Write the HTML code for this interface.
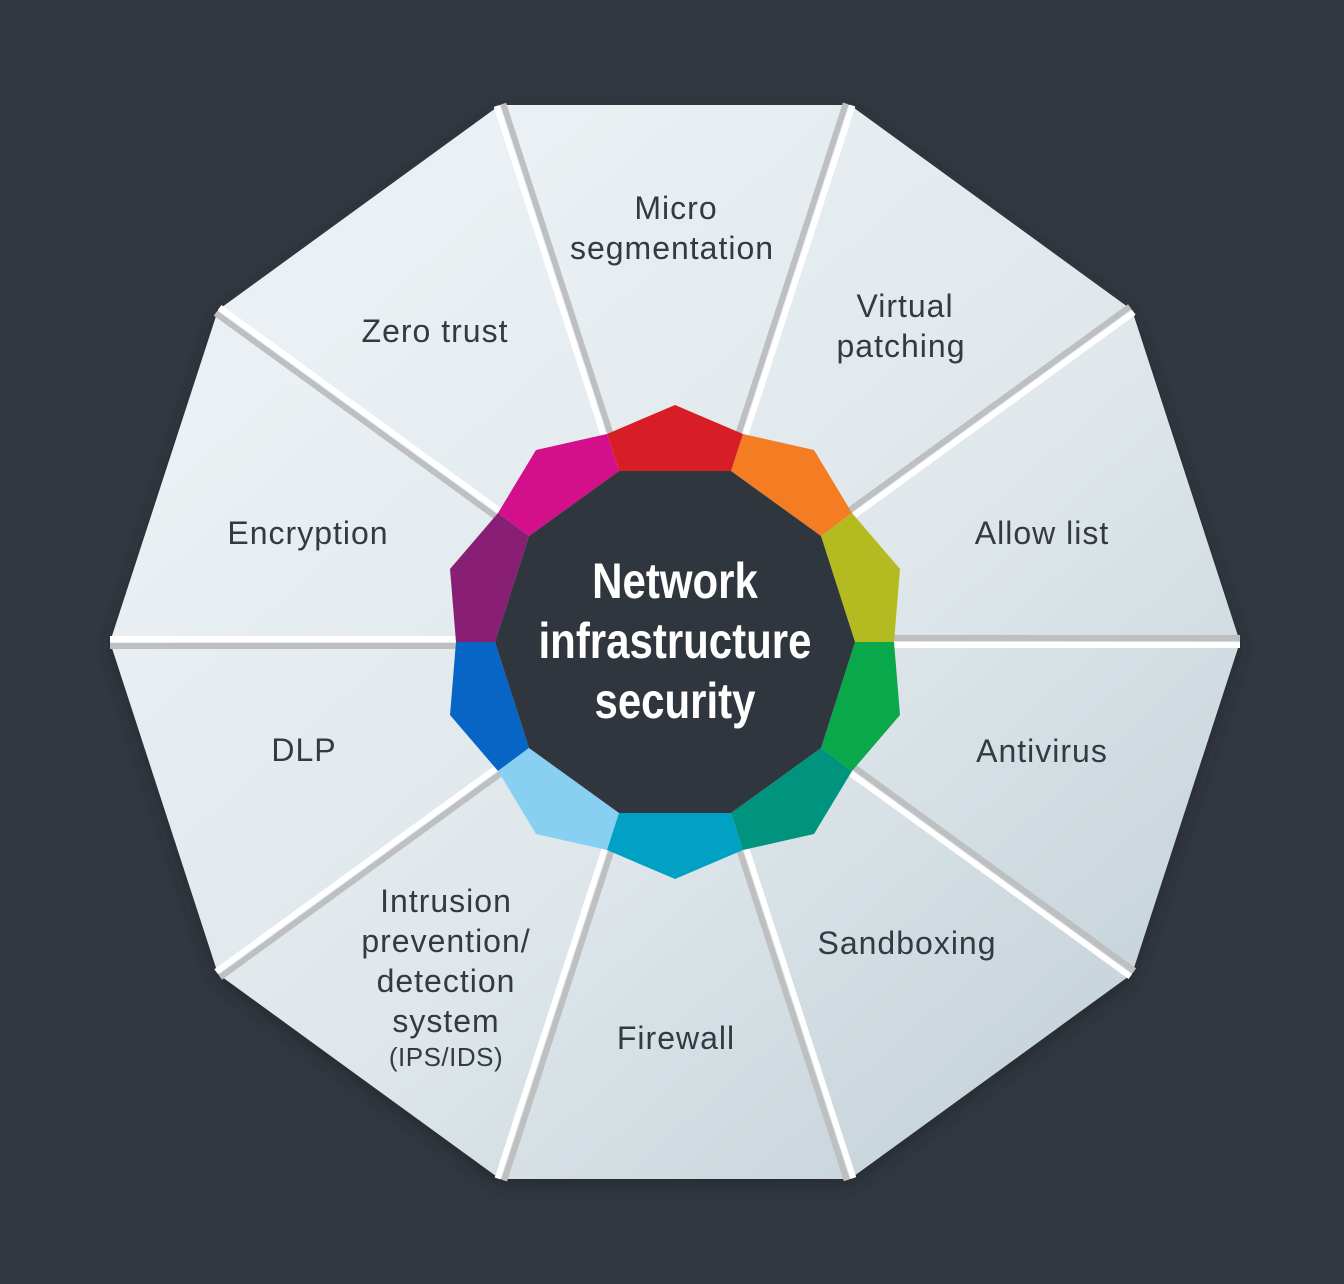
<!DOCTYPE html>
<html><head><meta charset="utf-8"><style>
html,body{margin:0;padding:0;background:#323840;}
svg{display:block}
.l{font-family:"Liberation Sans",sans-serif;font-size:32px;letter-spacing:1px;fill:#333a42;text-anchor:middle}
.c{font-family:"Liberation Sans",sans-serif;font-weight:bold;font-size:50px;fill:#fff;text-anchor:middle}
</style></head><body>
<svg width="1344" height="1284" viewBox="0 0 1344 1284" xmlns="http://www.w3.org/2000/svg">
<defs>
<linearGradient id="g" x1="0.2" y1="0.2" x2="0.9" y2="0.95">
<stop offset="0" stop-color="#eaf0f3"/><stop offset="0.5" stop-color="#dfe7eb"/><stop offset="1" stop-color="#c3d1d8"/>
</linearGradient>
<filter id="sh" x="-10%" y="-10%" width="120%" height="120%"><feGaussianBlur stdDeviation="8"/></filter>
</defs>
<polygon points="1240,642 1132,310 850,105 500,105 218,310 110,642 218,974 500,1179 850,1179 1132,974" fill="#1c2026" opacity="0.6" filter="url(#sh)" transform="translate(0,6)"/>
<polygon points="1240,642 1132,310 850,105 500,105 218,310 110,642 218,974 500,1179 850,1179 1132,974" fill="url(#g)"/>
<g stroke-width="6">
<g transform="rotate(0 675 642)"><line x1="894" y1="638" x2="1240" y2="638" stroke="#bdbfc1"/><line x1="894" y1="645" x2="1240" y2="645" stroke="#fff"/></g>
<g transform="rotate(-36 675 642)"><line x1="894" y1="638" x2="1240" y2="638" stroke="#bdbfc1"/><line x1="894" y1="645" x2="1240" y2="645" stroke="#fff"/></g>
<g transform="rotate(-72 675 642)"><line x1="894" y1="638" x2="1240" y2="638" stroke="#bdbfc1"/><line x1="894" y1="645" x2="1240" y2="645" stroke="#fff"/></g>
<g transform="rotate(-108 675 642)"><line x1="894" y1="638" x2="1240" y2="638" stroke="#fff"/><line x1="894" y1="645" x2="1240" y2="645" stroke="#bdbfc1"/></g>
<g transform="rotate(-144 675 642)"><line x1="894" y1="638" x2="1240" y2="638" stroke="#bdbfc1"/><line x1="894" y1="645" x2="1240" y2="645" stroke="#fff"/></g>
<g transform="rotate(-180 675 642)"><line x1="894" y1="638" x2="1240" y2="638" stroke="#bdbfc1"/><line x1="894" y1="645" x2="1240" y2="645" stroke="#fff"/></g>
<g transform="rotate(-216 675 642)"><line x1="894" y1="638" x2="1240" y2="638" stroke="#bdbfc1"/><line x1="894" y1="645" x2="1240" y2="645" stroke="#fff"/></g>
<g transform="rotate(-252 675 642)"><line x1="894" y1="638" x2="1240" y2="638" stroke="#bdbfc1"/><line x1="894" y1="645" x2="1240" y2="645" stroke="#fff"/></g>
<g transform="rotate(-288 675 642)"><line x1="894" y1="638" x2="1240" y2="638" stroke="#fff"/><line x1="894" y1="645" x2="1240" y2="645" stroke="#bdbfc1"/></g>
<g transform="rotate(-324 675 642)"><line x1="894" y1="638" x2="1240" y2="638" stroke="#bdbfc1"/><line x1="894" y1="645" x2="1240" y2="645" stroke="#fff"/></g>
</g>
<polygon points="855,642 821,536 852,513 900,569 894,642" fill="#b3bb20"/>
<polygon points="821,536 731,471 743,434 814,450 852,513" fill="#f47c22"/>
<polygon points="731,471 619,471 607,434 675,405 743,434" fill="#d71e26"/>
<polygon points="619,471 529,536 498,513 536,450 607,434" fill="#d40f8c"/>
<polygon points="529,536 495,642 456,642 450,569 498,513" fill="#891f74"/>
<polygon points="495,642 529,748 498,771 450,715 456,642" fill="#0765c6"/>
<polygon points="529,748 619,813 607,850 536,834 498,771" fill="#88d0f2"/>
<polygon points="619,813 731,813 743,850 675,879 607,850" fill="#00a1c5"/>
<polygon points="731,813 821,748 852,771 814,834 743,850" fill="#00937e"/>
<polygon points="821,748 855,642 894,642 900,715 852,771" fill="#08a84b"/>
<polygon points="855,642 821,536 731,471 619,471 529,536 495,642 529,748 619,813 731,813 821,748" fill="#30363e"/>
<g transform="translate(675,0) scale(0.84,1)">
<text class="c" x="0" y="598">Network</text>
<text class="c" x="0" y="658">infrastructure</text>
<text class="c" x="0" y="718">security</text>
</g>
<text class="l" x="676" y="219">Micro</text>
<text class="l" x="672" y="259">segmentation</text>
<text class="l" x="905" y="317">Virtual</text>
<text class="l" x="901" y="357">patching</text>
<text class="l" x="1042" y="544">Allow list</text>
<text class="l" x="1042" y="762">Antivirus</text>
<text class="l" x="907" y="954">Sandboxing</text>
<text class="l" x="676" y="1049">Firewall</text>
<text class="l" x="446" y="912">Intrusion</text>
<text class="l" x="446" y="952">prevention/</text>
<text class="l" x="446" y="992">detection</text>
<text class="l" x="446" y="1032">system</text>
<text class="l" x="446" y="1066" style="font-size:26px;letter-spacing:0.5px">(IPS/IDS)</text>
<text class="l" x="304" y="761">DLP</text>
<text class="l" x="308" y="544">Encryption</text>
<text class="l" x="435" y="342">Zero trust</text>
</svg>
</body></html>
